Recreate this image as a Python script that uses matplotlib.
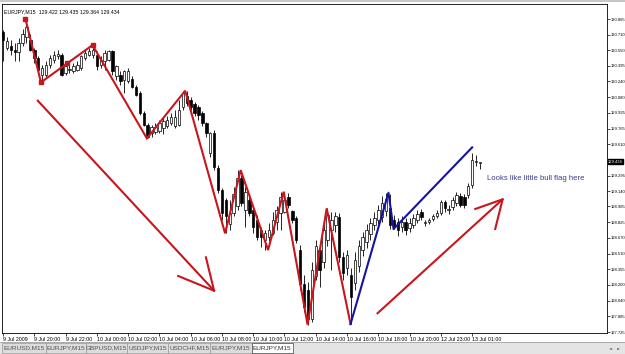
import matplotlib
matplotlib.use("Agg")
import matplotlib.pyplot as plt
from matplotlib.patches import Rectangle
import matplotlib.transforms as mtransforms

W, H = 625, 354
NARROW = ["Liberation Sans Narrow", "Liberation Sans", "DejaVu Sans"]

symbol = "EURJPY,M15"

# M15 candles, 9 Jul 2009 18:00 -> 13 Jul 2009 01:30
opens = [130.740, 130.570, 130.590, 130.555, 130.530, 130.620, 130.690, 130.655, 130.555, 130.470,
         130.305, 130.305, 130.405, 130.455, 130.490, 130.505, 130.320, 130.350, 130.340, 130.355,
         130.370, 130.470, 130.505, 130.505, 130.505, 130.405, 130.440, 130.455, 130.540, 130.290,
         130.305, 130.255, 130.240, 130.260, 130.185, 130.120, 129.920, 129.800, 129.720, 129.735,
         129.740, 129.770, 129.790, 129.825, 129.790, 129.800, 129.985, 130.090, 130.053, 130.010,
         129.985, 129.920, 129.820, 129.520, 129.720, 129.370, 129.150, 129.050, 128.810, 128.920,
         128.985, 129.270, 128.950, 129.050, 128.950, 128.850, 128.750, 128.650, 128.683, 128.716,
         128.833, 128.920, 128.933, 129.085, 128.935, 128.870, 128.548, 128.210, 128.147, 127.857,
         128.288, 128.548, 128.428, 128.648, 128.749, 128.800, 128.880, 128.478, 128.368, 128.300,
         128.218, 128.388, 128.548, 128.630, 128.710, 128.800, 128.850, 128.880, 128.940, 128.970,
         128.850, 128.830, 128.780, 128.830, 128.770, 128.800, 128.850, 128.930, 128.820, 128.830,
         128.860, 128.890, 128.920, 129.030, 128.950, 128.980, 129.020, 129.090, 129.080, 129.100,
         129.200, 129.430, 129.422]
highs = [130.760, 130.690, 130.655, 130.620, 130.670, 130.770, 130.865, 130.720, 130.570, 130.490,
         130.405, 130.440, 130.505, 130.540, 130.555, 130.520, 130.420, 130.405, 130.420, 130.440,
         130.505, 130.555, 130.570, 130.604, 130.540, 130.490, 130.555, 130.555, 130.555, 130.405,
         130.340, 130.355, 130.370, 130.290, 130.205, 130.140, 129.940, 129.820, 129.800, 129.820,
         129.850, 129.870, 129.895, 129.920, 129.950, 130.050, 130.146, 130.140, 130.080, 130.035,
         130.000, 129.940, 129.835, 129.735, 129.755, 129.400, 129.170, 129.070, 129.050, 129.185,
         129.350, 129.300, 129.185, 129.085, 128.985, 128.900, 128.783, 128.750, 128.816, 128.930,
         128.985, 129.135, 129.133, 129.120, 128.950, 128.885, 128.600, 128.300, 128.230, 128.430,
         128.648, 128.600, 128.800, 128.966, 128.930, 128.930, 128.920, 128.530, 128.550, 128.370,
         128.530, 128.650, 128.730, 128.810, 128.870, 128.930, 129.000, 129.090, 129.123, 129.110,
         128.900, 128.870, 128.890, 128.870, 128.870, 128.910, 128.950, 128.960, 128.850, 128.870,
         128.910, 128.950, 129.050, 129.050, 129.000, 129.080, 129.130, 129.120, 129.110, 129.220,
         129.520, 129.500, 129.435]
lows = [130.440, 130.555, 130.505, 130.440, 130.440, 130.590, 130.620, 130.540, 130.420, 130.305,
        130.230, 130.280, 130.370, 130.420, 130.460, 130.295, 130.305, 130.320, 130.320, 130.340,
        130.355, 130.455, 130.490, 130.470, 130.355, 130.370, 130.355, 130.440, 130.305, 130.255,
        130.205, 130.120, 130.220, 130.170, 130.090, 129.905, 129.790, 129.668, 129.685, 129.710,
        129.720, 129.710, 129.770, 129.800, 129.770, 129.790, 129.950, 129.990, 129.950, 129.890,
        129.850, 129.790, 129.685, 129.485, 129.350, 129.120, 128.850, 128.716, 128.750, 128.885,
        128.950, 128.985, 128.783, 128.885, 128.716, 128.650, 128.583, 128.548, 128.636, 128.700,
        128.750, 128.750, 128.920, 128.970, 128.820, 128.620, 128.147, 127.930, 127.800, 127.830,
        128.250, 128.178, 128.370, 128.590, 128.347, 128.730, 128.430, 128.250, 128.300, 127.806,
        128.150, 128.330, 128.490, 128.570, 128.650, 128.750, 128.810, 128.830, 128.890, 128.759,
        128.759, 128.690, 128.730, 128.700, 128.730, 128.770, 128.820, 128.850, 128.790, 128.810,
        128.840, 128.870, 128.900, 128.930, 128.910, 128.950, 128.990, 128.980, 128.970, 129.070,
        129.170, 129.390, 129.364]
closes = [130.655, 130.640, 130.555, 130.535, 130.620, 130.720, 130.790, 130.555, 130.470, 130.355,
          130.370, 130.405, 130.470, 130.505, 130.515, 130.305, 130.390, 130.360, 130.390, 130.405,
          130.490, 130.520, 130.540, 130.550, 130.390, 130.455, 130.520, 130.540, 130.340, 130.390,
          130.240, 130.340, 130.340, 130.185, 130.100, 129.920, 129.800, 129.685, 129.780, 129.785,
          129.820, 129.840, 129.850, 129.885, 129.885, 129.950, 130.120, 130.020, 129.985, 129.920,
          129.900, 129.820, 129.720, 129.720, 129.385, 129.150, 128.920, 128.885, 128.920, 129.115,
          129.270, 129.015, 129.135, 128.920, 128.783, 128.683, 128.683, 128.716, 128.750, 128.850,
          128.950, 129.085, 129.050, 129.000, 128.850, 128.650, 128.210, 127.977, 127.857, 128.347,
          128.588, 128.347, 128.750, 128.900, 128.850, 128.890, 128.478, 128.318, 128.500, 128.080,
          128.448, 128.588, 128.680, 128.750, 128.820, 128.870, 128.950, 129.020, 129.060, 128.800,
          128.780, 128.750, 128.830, 128.750, 128.820, 128.870, 128.910, 128.880, 128.830, 128.850,
          128.890, 128.920, 129.030, 128.970, 128.960, 129.050, 129.100, 129.000, 129.000, 129.190,
          129.450, 129.440, 129.434]

time_labels = ["9 Jul 2009", "9 Jul 20:00", "9 Jul 22:00", "10 Jul 00:00", "10 Jul 02:00",
               "10 Jul 04:00", "10 Jul 06:00", "10 Jul 08:00", "10 Jul 10:00", "10 Jul 12:00",
               "10 Jul 14:00", "10 Jul 16:00", "10 Jul 18:00", "10 Jul 20:00", "12 Jul 23:00",
               "13 Jul 01:00"]
price_ticks = [130.865, 130.710, 130.550, 130.395, 130.240, 130.080, 129.925, 129.765, 129.610,
               129.450, 129.295, 129.140, 128.985, 128.825, 128.670, 128.510, 128.355, 128.200,
               128.040, 127.885, 127.725]

# hand drawn objects (bar index, price)
zigzag_bars = [5.75, 9.7, 22.9, 36.8, 46.6, 56.8, 60.8, 67.8, 71.8, 77.9, 82.8, 88.9]
zigzag_prices = [130.865, 130.230, 130.604, 129.668, 130.146, 128.716, 129.350, 128.548,
                 129.133, 127.800, 128.966, 127.806]
flag_bars = [88.9, 98.6, 99.9, 120.0]
flag_prices = [127.806, 129.123, 128.759, 129.578]
marker_bars = [5.75, 9.7, 16.4, 22.9]
marker_prices = [130.865, 130.230, 130.421, 130.604]
down_arrow_bars = [8.9, 54.0, 44.8, 54.0, 51.9]
down_arrow_prices = [130.046, 128.140, 128.288, 128.140, 128.475]
up_arrow_bars = [95.8, 127.8, 120.8, 127.8, 125.9]
up_arrow_prices = [127.914, 129.057, 128.960, 129.057, 128.759]
note = "Looks like little bull flag here"
note_bar, note_price = 123.8, 129.27

RED = "#c8161c"
BLUE = "#1414a0"


def fx(px):
    return px / W


def fy(py):
    return 1 - py / H


fig = plt.figure(figsize=(W / 100, H / 100), dpi=100)
fig.patch.set_facecolor("white")
ax = fig.add_axes([fx(2), fy(333), fx(605), (333 - 4) / H])

n = len(closes)
xs = list(range(n))
for i in xs:
    ax.vlines(i, lows[i], highs[i], color="black", lw=0.6, zorder=2)
    up = closes[i] >= opens[i]
    lo = min(opens[i], closes[i])
    hgt = abs(closes[i] - opens[i])
    ax.bar(i, max(hgt, 0.004), bottom=lo if hgt > 0 else lo - 0.002, width=0.62,
           color="white" if up else "black", edgecolor="black", lw=0.5, zorder=3)

ax.plot(zigzag_bars, zigzag_prices, color=RED, lw=1.5, zorder=4, solid_joinstyle="miter")
ax.plot(marker_bars, marker_prices, "s", color=RED, ms=2.2, zorder=5)
ax.plot(flag_bars, flag_prices, color=BLUE, lw=1.5, zorder=4)
for bx, py in [(down_arrow_bars, down_arrow_prices), (up_arrow_bars, up_arrow_prices)]:
    ax.plot(bx[:2], py[:2], color=RED, lw=1.5, zorder=4)
    ax.plot(bx[2:], py[2:], color=RED, lw=1.5, zorder=4)
ax.text(note_bar, note_price, note, color="#3c3c90", fontsize=5.6, family=NARROW,
        va="center", ha="left", zorder=6)

ax.set_xlim(-0.26, 154.5)
ax.set_ylim(127.716, 131.016)

cur = closes[-1]
ax.set_xticks(xs[::8][:len(time_labels)])
ax.set_xticklabels(time_labels, fontsize=3.8, family=NARROW, ha="left")
ax.set_yticks(price_ticks)
# the tick nearest the last price sits under the price box
ax.set_yticklabels(["" if abs(p - cur) < 0.05 else f"{p:.3f}" for p in price_ticks],
                   fontsize=3.0, family=NARROW)
ax.yaxis.tick_right()
ax.tick_params(axis="both", direction="out", length=2, width=0.5, pad=0.6, colors="black")
for s in ax.spines.values():
    s.set_linewidth(0.6)
    s.set_color("black")

# header and current price
ax.text(0.004, 0.985, f"{symbol}  {opens[-1]:.3f} {highs[-1]:.3f} {lows[-1]:.3f} {cur:.3f}",
        transform=ax.transAxes, fontsize=3.8, family=NARROW, va="top", ha="left")
trans = mtransforms.blended_transform_factory(ax.transAxes, ax.transData)
ax.text(1.002, cur, f"{cur:.3f}", transform=trans, fontsize=3.0, family=NARROW,
        color="white", va="center", ha="left", clip_on=False, zorder=10,
        bbox=dict(boxstyle="square,pad=0.12", fc="black", ec="black"))

# window chrome
fig.add_artist(Rectangle((0, fy(2)), 1, 2 / H, transform=fig.transFigure,
                         fc="#c8c8c8", ec="none"))
fig.add_artist(Rectangle((0, 0), 1, 12 / H, transform=fig.transFigure, fc="#e4e4e4", ec="none"))
fig.add_artist(plt.Line2D([0, 1], [fy(342), fy(342)], transform=fig.transFigure,
                          color="#a0a0a0", lw=0.6))
tab_names = ["EURUSD,M15", "EURJPY,M15", "GBPUSD,M15", "USDJPY,M15", "USDCHF,M15",
             "EURJPY,M15", "EURJPY,M15"]
tab_edges = [2, 45.7, 86, 126.7, 168.3, 210, 251.7, 292.7]
for k, name in enumerate(tab_names):
    x0, x1 = tab_edges[k], tab_edges[k + 1]
    active = k == len(tab_names) - 1
    fig.add_artist(Rectangle((fx(x0), fy(353)), fx(x1 - x0), (353 - 343) / H,
                             transform=fig.transFigure,
                             fc="white" if active else "#dcdcdc",
                             ec="#404040" if active else "#9a9a9a", lw=0.5))
    fig.text(fx((x0 + x1) / 2), fy(348), name, fontsize=4.6, family=NARROW,
             color="#303030" if active else "#505050", ha="center", va="center")
fig.text(fx(611), fy(348), "◄", fontsize=3, color="#606060", ha="center", va="center")
fig.text(fx(619), fy(348), "►", fontsize=3, color="#606060", ha="center", va="center")

fig.savefig("out.png", dpi=100)
